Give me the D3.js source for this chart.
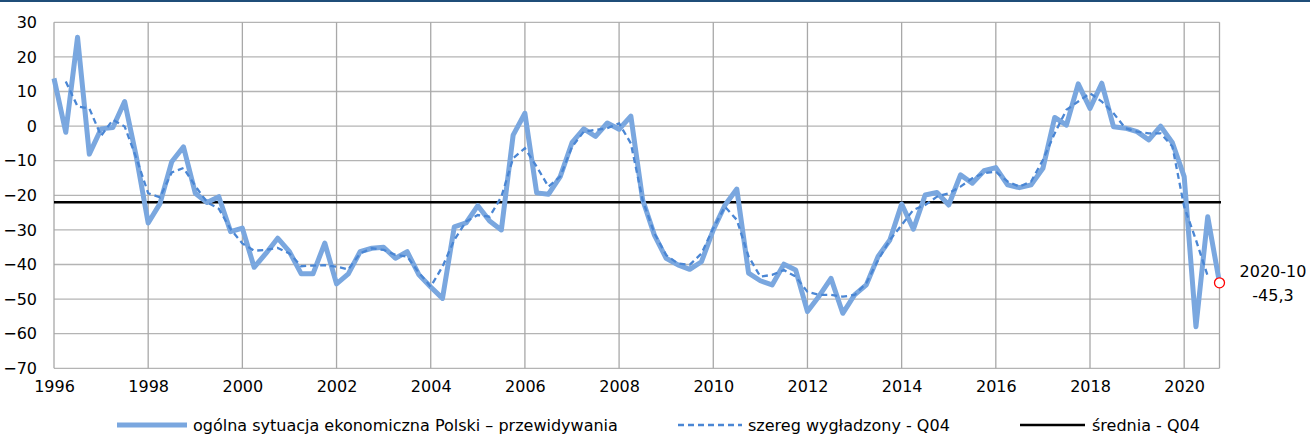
<!DOCTYPE html>
<html>
<head>
<meta charset="utf-8">
<script src="https://cdn.jsdelivr.net/npm/d3@7"></script>
<style>
  html, body { margin: 0; padding: 0; background: #fff; }
  svg { display: block; }
  text { font-family: "DejaVu Sans", sans-serif; fill: #000; }
</style>
</head>
<body>
<svg id="chart" width="1310" height="437"></svg>
<script>
// ---- data ----
const startYear = 1996;             // first quarter: 1996-01
const quarterLabels = ["01", "04", "07", "10"];
const seriesNames = [
  "ogólna sytuacja ekonomiczna Polski – przewidywania",
  "szereg wygładzony - Q04",
  "średnia - Q04"
];
const outlook = [
  13.8, -1.8, 25.7, -8.1,
  -0.8, -0.4, 7.1, -9.0,
  -28.0, -22.4, -10.3, -6.0,
  -19.4, -22.1, -20.4, -30.5,
  -29.5, -40.8, -36.8, -32.4,
  -36.3, -42.7, -42.7, -33.8,
  -45.6, -42.7, -36.3, -35.3,
  -35.0, -38.2, -36.3, -43.0,
  -46.5, -49.8, -29.1, -28.0,
  -23.0, -27.4, -30.0, -2.6,
  3.7, -19.3, -19.7, -14.6,
  -4.8, -0.8, -3.0, 0.9,
  -0.9, 2.9, -21.3, -31.5,
  -38.2, -40.1, -41.4, -39.2,
  -30.0, -22.8, -18.2, -42.5,
  -44.7, -45.9, -39.9, -41.6,
  -53.6, -49.1, -44.0, -54.1,
  -48.8, -45.9, -37.7, -32.9,
  -22.5, -29.8, -19.9, -19.2,
  -22.8, -14.1, -16.5, -12.9,
  -12.0, -17.0, -17.8, -17.0,
  -12.2, 2.5, 0.3, 12.2,
  5.1, 12.4, -0.2, -0.6,
  -1.6, -4.0, 0.0, -4.8,
  -14.6, -58.0, -26.2, -45.3
];
const smoothed = [
  null, 12.9, 5.7, 5.1,
  -2.8, 1.8, -0.1, -9.3,
  -19.4, -20.6, -13.4, -12.1,
  -17.3, -22.0, -23.9, -29.8,
  -33.9, -36.0, -35.8, -35.2,
  -36.8, -40.5, -40.3, -40.2,
  -40.6, -41.4, -36.8, -35.3,
  -35.8, -37.2, -37.7, -42.4,
  -46.4, -40.6, -32.9, -27.6,
  -25.7, -26.2, -20.4, -9.3,
  -6.4, -11.7, -17.5, -14.6,
  -6.0, -1.6, -1.1, -0.6,
  0.8, -5.0, -21.4, -31.0,
  -37.3, -39.7, -40.1, -36.8,
  -29.5, -23.3, -27.1, -37.7,
  -43.5, -43.0, -41.6, -43.5,
  -47.9, -48.8, -48.8, -49.3,
  -48.8, -45.4, -38.7, -32.9,
  -28.6, -24.2, -22.8, -20.4,
  -19.4, -17.5, -15.1, -13.6,
  -13.2, -16.0, -17.5, -16.0,
  -9.8, -2.1, 4.7, 7.1,
  9.5, 7.1, 3.7, -0.6,
  -1.6, -2.1, -2.1, -5.9,
  -23.3, -32.9, -43.3, null
];
const meanValue = -22.0;
const lastLabel = "2020-10";
const lastValueLabel = "-45,3";
const xTickYears = [1996, 1998, 2000, 2002, 2004, 2006, 2008, 2010, 2012, 2014, 2016, 2018, 2020];
const yTickValues = [30, 20, 10, 0, -10, -20, -30, -40, -50, -60, -70];

// ---- layout ----
const W = 1310, H = 437;
const plot = { left: 54, right: 1219.5, top: 22.3, bottom: 368.3 };
const svg = d3.select("#chart");

const t = i => startYear + i / 4;
const x = d3.scaleLinear().domain([startYear, t(outlook.length - 1)]).range([plot.left, plot.right]);
const y = d3.scaleLinear().domain([-70, 30]).range([plot.bottom, plot.top]);

// top frame line
svg.append("rect").attr("x", 0).attr("y", 0).attr("width", W).attr("height", 2).attr("fill", "#1f4e79");

// gridlines
const grid = svg.append("g");
grid.selectAll("line.h").data(yTickValues).join("line")
  .attr("x1", plot.left).attr("x2", plot.right)
  .attr("y1", d => y(d)).attr("y2", d => y(d))
  .attr("stroke", "#b4b4b4").attr("stroke-width", 1.3);
grid.selectAll("line.v").data(xTickYears).join("line")
  .attr("x1", d => x(d)).attr("x2", d => x(d))
  .attr("y1", plot.top).attr("y2", plot.bottom)
  .attr("stroke", "#a8a8a8").attr("stroke-width", 1.3);
grid.append("line").attr("x1", plot.right).attr("x2", plot.right)
  .attr("y1", plot.top).attr("y2", plot.bottom)
  .attr("stroke", "#a8a8a8").attr("stroke-width", 1.3);

// axes labels
const yAxis = d3.axisLeft(y).tickValues(yTickValues).tickSize(0).tickPadding(17).tickFormat(d3.format("d"));
const gy = svg.append("g").attr("transform", `translate(${plot.left},0)`).call(yAxis);
gy.select(".domain").remove();
gy.selectAll("text").style("font-size", "16px").attr("fill", "#000");

const xAxis = d3.axisBottom(x).tickValues(xTickYears).tickSize(0).tickPadding(12).tickFormat(d3.format("d"));
const gx = svg.append("g").attr("transform", `translate(0,${plot.bottom})`).call(xAxis);
gx.select(".domain").remove();
gx.selectAll("text").style("font-size", "16px").attr("fill", "#000");

// mean line
svg.append("line")
  .attr("x1", plot.left).attr("x2", plot.right + 1.5)
  .attr("y1", y(meanValue)).attr("y2", y(meanValue))
  .attr("stroke", "#000").attr("stroke-width", 2.6);

// main series
const line = d3.line().defined(d => d != null).x((d, i) => x(t(i))).y(d => y(d));
svg.append("path").datum(outlook)
  .attr("d", line)
  .attr("fill", "none").attr("stroke", "#7aa7df").attr("stroke-width", 5)
  .attr("stroke-linejoin", "round").attr("stroke-linecap", "butt");

// smoothed series
svg.append("path").datum(smoothed)
  .attr("d", line)
  .attr("fill", "none").attr("stroke", "#4a86d4").attr("stroke-width", 2.3)
  .attr("stroke-dasharray", "6,4");

// last point marker and label
const li = outlook.length - 1;
svg.append("circle")
  .attr("cx", x(t(li))).attr("cy", y(outlook[li])).attr("r", 5)
  .attr("fill", "#fff").attr("stroke", "#ff0000").attr("stroke-width", 1.3);
svg.append("text").attr("x", 1273).attr("y", 277).attr("text-anchor", "middle")
  .style("font-size", "16px").text(lastLabel);
svg.append("text").attr("x", 1273).attr("y", 301).attr("text-anchor", "middle")
  .style("font-size", "16px").text(lastValueLabel);

// legend
const lg = svg.append("g");
const ly = 425;
lg.append("line").attr("x1", 117).attr("x2", 187).attr("y1", ly).attr("y2", ly)
  .attr("stroke", "#7aa7df").attr("stroke-width", 5);
lg.append("text").attr("x", 193).attr("y", ly + 6).style("font-size", "16px").text(seriesNames[0]);
lg.append("line").attr("x1", 678).attr("x2", 742).attr("y1", ly).attr("y2", ly)
  .attr("stroke", "#4a86d4").attr("stroke-width", 2.3).attr("stroke-dasharray", "6,4");
lg.append("text").attr("x", 748).attr("y", ly + 6).style("font-size", "16px").text(seriesNames[1]);
lg.append("line").attr("x1", 1020).attr("x2", 1085).attr("y1", ly).attr("y2", ly)
  .attr("stroke", "#000").attr("stroke-width", 2.6);
lg.append("text").attr("x", 1092).attr("y", ly + 6).style("font-size", "16px").text(seriesNames[2]);
</script>
</body>
</html>
